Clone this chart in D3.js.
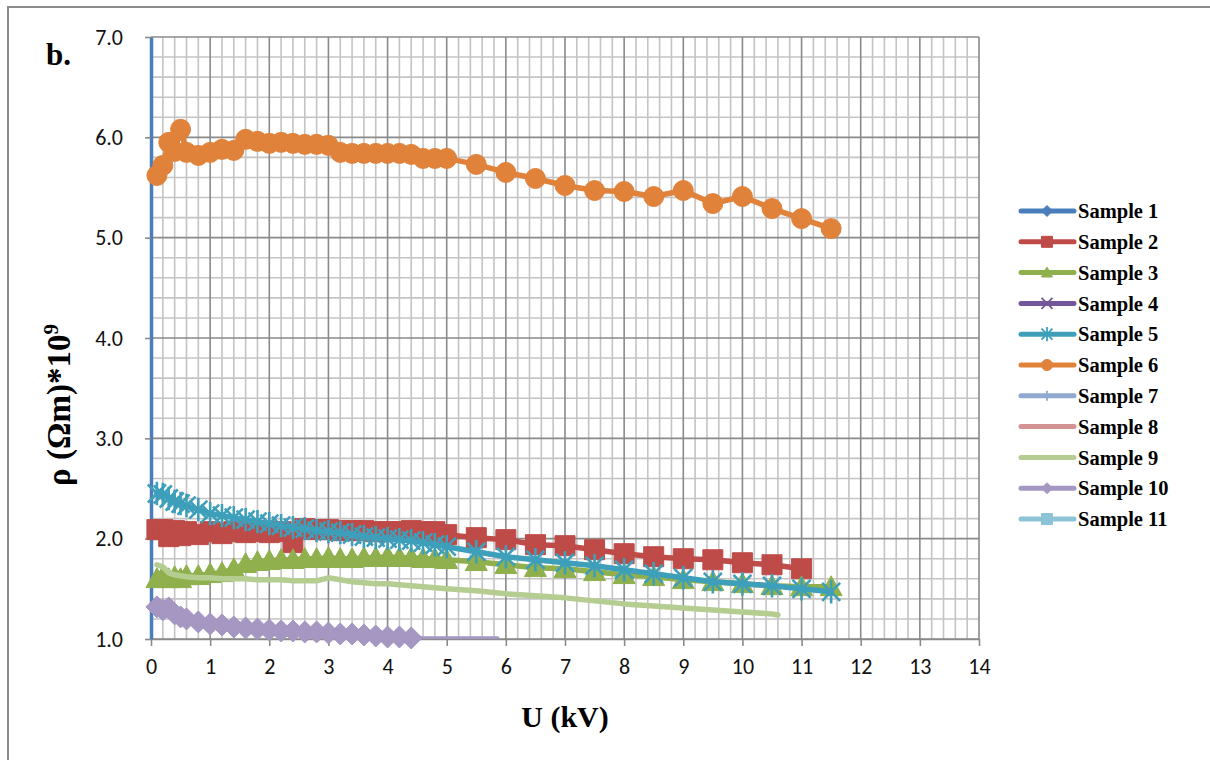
<!DOCTYPE html>
<html>
<head>
<meta charset="utf-8">
<script src="https://cdn.jsdelivr.net/npm/d3@7"></script>
<style>
  body { margin: 0; background: #fff; }
  svg { display: block; }
</style>
</head>
<body>
<svg id="chart" width="1210" height="760"></svg>
<script>
// Applied voltage U (kV) at each measurement step
const U = [0.1, 0.2, 0.3, 0.4, 0.5, 0.6, 0.8, 1.0, 1.2, 1.4, 1.6, 1.8, 2.0, 2.2, 2.4, 2.6, 2.8, 3.0, 3.2, 3.4,
           3.6, 3.8, 4.0, 4.2, 4.4, 4.6, 4.8, 5.0, 5.5, 6.0, 6.5, 7.0, 7.5, 8.0, 8.5, 9.0, 9.5, 10.0, 10.5, 11.0, 11.5];
// Sample 9 was read on its own voltage steps
const U9 = [0.1, 0.2, 0.3, 0.4, 0.5, 0.6, 0.8, 1.0, 1.2, 1.4, 1.6, 1.8, 2.0, 2.2, 2.4, 2.6, 2.8, 3.0, 3.2, 3.4,
            3.6, 3.8, 4.0, 4.2, 4.4, 4.6, 4.8, 5.0, 5.5, 6.0, 6.5, 7.0, 7.5, 8.0, 8.5, 9.0, 9.5, 10.0, 10.5, 10.6];
// Sample 10 stops before 6 kV
const U10 = [0.1, 0.2, 0.3, 0.4, 0.5, 0.6, 0.8, 1.0, 1.2, 1.4, 1.6, 1.8, 2.0, 2.2, 2.4, 2.6, 2.8, 3.0, 3.2, 3.4,
             3.6, 3.8, 4.0, 4.2, 4.4, 4.6, 4.8, 5.0, 5.5, 5.85];

// Resistivity rho (Ohm*m) * 1e9
const sample1 = [];
const sample2 = [2.09, 2.09, 2.02, 2.08, 2.03, 2.07, 2.04, 2.07, 2.05, 2.07, 2.06, 2.07, 2.06, 2.07, 1.96, 2.10, 2.09, 2.09, 2.08, 2.08,
                 2.08, 2.07, 2.07, 2.07, 2.08, 2.07, 2.07, 2.04, 2.01, 1.99, 1.94, 1.93, 1.89, 1.85, 1.82, 1.80, 1.79, 1.76, 1.74, 1.70];
const sample3 = [1.60, 1.62, 1.60, 1.62, 1.60, 1.63, 1.63, 1.65, 1.66, 1.70, 1.75, 1.77, 1.78, 1.79, 1.79, 1.80, 1.80, 1.81, 1.80, 1.80,
                 1.81, 1.81, 1.82, 1.81, 1.81, 1.80, 1.80, 1.79, 1.77, 1.74, 1.71, 1.70, 1.67, 1.64, 1.62, 1.59, 1.57, 1.55, 1.53, 1.52, 1.52];
const sample4 = [];
const sample5 = [2.45, 2.44, 2.40, 2.37, 2.35, 2.33, 2.29, 2.25, 2.23, 2.21, 2.19, 2.17, 2.15, 2.13, 2.11, 2.10, 2.08, 2.07, 2.06, 2.04,
                 2.02, 2.01, 2.00, 1.99, 1.98, 1.96, 1.94, 1.92, 1.87, 1.82, 1.79, 1.76, 1.73, 1.69, 1.65, 1.61, 1.57, 1.55, 1.53, 1.50, 1.47];
const sample6 = [5.62, 5.72, 5.95, 5.86, 6.08, 5.85, 5.82, 5.85, 5.88, 5.87, 5.98, 5.96, 5.94, 5.95, 5.94, 5.93, 5.93, 5.92, 5.85, 5.84,
                 5.84, 5.84, 5.84, 5.84, 5.83, 5.79, 5.79, 5.79, 5.73, 5.65, 5.59, 5.52, 5.47, 5.46, 5.41, 5.47, 5.34, 5.41, 5.29, 5.19, 5.09];
const sample7 = [];
const sample8 = [];
const sample9 = [1.74, 1.72, 1.66, 1.64, 1.63, 1.62, 1.61, 1.61, 1.60, 1.60, 1.60, 1.59, 1.59, 1.59, 1.58, 1.58, 1.58, 1.61, 1.59, 1.57,
                 1.56, 1.55, 1.55, 1.54, 1.53, 1.52, 1.51, 1.50, 1.48, 1.45, 1.43, 1.41, 1.38, 1.35, 1.33, 1.31, 1.29, 1.27, 1.25, 1.24];
const sample10 = [1.32, 1.29, 1.31, 1.25, 1.22, 1.20, 1.17, 1.15, 1.14, 1.12, 1.11, 1.10, 1.09, 1.08, 1.08, 1.07, 1.07, 1.06, 1.05, 1.05,
                  1.04, 1.03, 1.02, 1.02, 1.01, 0.99, 0.98, 0.97, 0.95, 0.93];
const sample11 = [];

const seriesNames = ["Sample 1", "Sample 2", "Sample 3", "Sample 4", "Sample 5", "Sample 6",
                     "Sample 7", "Sample 8", "Sample 9", "Sample 10", "Sample 11"];
const xTicks = [0, 1, 2, 3, 4, 5, 6, 7, 8, 9, 10, 11, 12, 13, 14];
const yTicks = [1.0, 2.0, 3.0, 4.0, 5.0, 6.0, 7.0];

const series = [
  { name: seriesNames[0],  u: U,   v: sample1,  color: "#4a7ebb", marker: "diamond" },
  { name: seriesNames[1],  u: U,   v: sample2,  color: "#be4b48", marker: "square" },
  { name: seriesNames[2],  u: U,   v: sample3,  color: "#8fb04c", marker: "triangle" },
  { name: seriesNames[3],  u: U,   v: sample4,  color: "#73579a", marker: "x" },
  { name: seriesNames[4],  u: U,   v: sample5,  color: "#3e9fba", marker: "asterisk" },
  { name: seriesNames[5],  u: U,   v: sample6,  color: "#e0823a", marker: "circle" },
  { name: seriesNames[6],  u: U,   v: sample7,  color: "#8fa9d0", marker: "plus" },
  { name: seriesNames[7],  u: U,   v: sample8,  color: "#d39392", marker: "none" },
  { name: seriesNames[8],  u: U9,  v: sample9,  color: "#b6cd92", marker: "none" },
  { name: seriesNames[9],  u: U10, v: sample10, color: "#a596c2", marker: "diamond" },
  { name: seriesNames[10], u: U,   v: sample11, color: "#8dc3d6", marker: "square" }
];

const svg = d3.select("#chart");
const W = 1210, H = 760;
const plot = { left: 151, right: 979, top: 37, bottom: 639 };

const x = d3.scaleLinear().domain([0, 14]).range([plot.left, plot.right]);
const y = d3.scaleLinear().domain([1, 7]).range([plot.bottom, plot.top]).clamp(true);

// Outer frame (left and top edges)
svg.append("path")
  .attr("d", `M8,${H} L8,7 L${W},7`)
  .attr("fill", "none").attr("stroke", "#8c8c8c").attr("stroke-width", 2);

// Minor gridlines every 0.2
const minorX = d3.range(0, 14.0001, 0.2).filter(v => Math.abs(v - Math.round(v)) > 1e-6);
const minorY = d3.range(1, 7.0001, 0.2).filter(v => Math.abs(v - Math.round(v)) > 1e-6);
const grid = svg.append("g");
grid.selectAll("line.mx").data(minorX).join("line")
  .attr("x1", d => x(d)).attr("x2", d => x(d))
  .attr("y1", plot.top).attr("y2", plot.bottom)
  .attr("stroke", "#c4c4c4").attr("stroke-width", 1.6);
grid.selectAll("line.my").data(minorY).join("line")
  .attr("x1", plot.left).attr("x2", plot.right)
  .attr("y1", d => y(d)).attr("y2", d => y(d))
  .attr("stroke", "#c4c4c4").attr("stroke-width", 1.6);
// Major gridlines
grid.selectAll("line.Mx").data(xTicks).join("line")
  .attr("x1", d => x(d)).attr("x2", d => x(d))
  .attr("y1", plot.top).attr("y2", plot.bottom)
  .attr("stroke", "#8a8a8a").attr("stroke-width", 1.6);
grid.selectAll("line.My").data(yTicks).join("line")
  .attr("x1", plot.left).attr("x2", plot.right)
  .attr("y1", d => y(d)).attr("y2", d => y(d))
  .attr("stroke", "#8a8a8a").attr("stroke-width", 1.6);

// X axis
const xAxis = svg.append("g")
  .attr("transform", `translate(0,${plot.bottom})`)
  .call(d3.axisBottom(x).tickValues(xTicks).tickFormat(d3.format("d")).tickSizeInner(7).tickSizeOuter(0).tickPadding(12));
xAxis.select(".domain").attr("stroke", "#8a8a8a").attr("stroke-width", 1.6);
xAxis.selectAll(".tick line").attr("stroke", "#8a8a8a").attr("stroke-width", 1.6);
xAxis.selectAll("text")
  .attr("font-family", "Carlito, Lato, 'Open Sans', sans-serif")
  .attr("font-size", 22).attr("fill", "#111");

// Y axis
const yAxis = svg.append("g")
  .attr("transform", `translate(${plot.left},0)`)
  .call(d3.axisLeft(y).tickValues(yTicks).tickFormat(d3.format(".1f")).tickSizeInner(6).tickSizeOuter(0).tickPadding(22));
yAxis.select(".domain").attr("stroke", "#4a7ebb").attr("stroke-width", 3.5);
yAxis.selectAll(".tick line").attr("stroke", "#8a8a8a").attr("stroke-width", 1.6);
yAxis.selectAll("text")
  .attr("font-family", "Carlito, Lato, 'Open Sans', sans-serif")
  .attr("font-size", 22).attr("fill", "#111");

// Marker shapes (half-size s)
function markerPath(kind, s) {
  switch (kind) {
    case "diamond":  return `M0,${-s}L${s},0L0,${s}L${-s},0Z`;
    case "square":   return `M${-s},${-s}H${s}V${s}H${-s}Z`;
    case "triangle": return `M0,${-s}L${s},${s * 0.8}L${-s},${s * 0.8}Z`;
    case "circle":   return `M${s},0A${s},${s} 0 1,1 ${-s},0A${s},${s} 0 1,1 ${s},0Z`;
    case "x":        return `M${-s},${-s}L${s},${s}M${-s},${s}L${s},${-s}`;
    case "asterisk": return `M${-s},${-s}L${s},${s}M${-s},${s}L${s},${-s}M0,${-s * 1.3}V${s * 1.3}`;
    case "plus":     return `M0,${-s}V${s}`;
    default:         return "";
  }
}
const strokeMarkers = new Set(["x", "asterisk", "plus"]);
const markerSize = { diamond: 11, square: 10, triangle: 11, circle: 10, x: 9, asterisk: 9, plus: 7 };

svg.append("defs").append("clipPath").attr("id", "plotClip")
  .append("rect").attr("x", plot.left).attr("y", plot.top)
  .attr("width", plot.right - plot.left).attr("height", plot.bottom - plot.top);

const line = d3.line().x(d => x(d[0])).y(d => y(d[1]));
const marks = svg.append("g");

series.forEach(s => {
  const pts = s.v.map((v, i) => [s.u[i], v]);
  if (!pts.length) return;
  const g = marks.append("g");
  g.append("path")
    .attr("d", line(pts))
    .attr("clip-path", "url(#plotClip)")
    .attr("fill", "none").attr("stroke", s.color)
    .attr("stroke-width", 5.5).attr("stroke-linejoin", "round").attr("stroke-linecap", "round");
  if (s.marker !== "none") {
    const size = markerSize[s.marker];
    const stroke = strokeMarkers.has(s.marker);
    g.selectAll("path.m").data(pts.filter(p => p[1] >= 1)).join("path")
      .attr("class", "m")
      .attr("transform", d => `translate(${x(d[0])},${y(d[1])})`)
      .attr("d", markerPath(s.marker, size))
      .attr("fill", stroke ? "none" : s.color)
      .attr("stroke", s.color)
      .attr("stroke-width", stroke ? 2.6 : 1);
  }
});

// Legend
const legend = svg.append("g");
const legTop = 211, legStep = 30.8;
series.forEach((s, i) => {
  const cy = legTop + i * legStep;
  const g = legend.append("g").attr("transform", `translate(0,${cy})`);
  g.append("line").attr("x1", 1021).attr("x2", 1074).attr("y1", 0).attr("y2", 0)
    .attr("stroke", s.color).attr("stroke-width", 5).attr("stroke-linecap", "round");
  if (s.marker !== "none") {
    const stroke = strokeMarkers.has(s.marker);
    g.append("path").attr("transform", "translate(1047,0)")
      .attr("d", markerPath(s.marker, s.marker === "plus" ? 5 : 5.5))
      .attr("fill", stroke ? "none" : s.color).attr("stroke", s.color)
      .attr("stroke-width", stroke ? 1.8 : 1);
  }
  g.append("text").attr("x", 1078).attr("y", 0).attr("dy", "0.35em")
    .attr("font-family", "'Liberation Serif', 'Times New Roman', serif")
    .attr("font-weight", "bold").attr("font-size", 20.5).attr("fill", "#000")
    .text(s.name);
});

// Panel letter
svg.append("text").attr("x", 46).attr("y", 65)
  .attr("font-family", "'Liberation Serif', 'Times New Roman', serif")
  .attr("font-weight", "bold").attr("font-size", 31).attr("fill", "#000")
  .text("b.");

// Axis titles
svg.append("text").attr("x", x(7)).attr("y", 727).attr("text-anchor", "middle")
  .attr("font-family", "'Liberation Serif', 'Times New Roman', serif")
  .attr("font-weight", "bold").attr("font-size", 30).attr("fill", "#000")
  .text("U (kV)");

const yTitle = svg.append("text")
  .attr("transform", "translate(70,405) rotate(-90)")
  .attr("text-anchor", "middle")
  .attr("font-family", "'Liberation Serif', 'Times New Roman', serif")
  .attr("font-weight", "bold").attr("font-size", 33).attr("fill", "#000");
yTitle.append("tspan").text("ρ (Ωm)*10");
yTitle.append("tspan").attr("font-size", 21).attr("dy", -12).text("9");
</script>
</body>
</html>
